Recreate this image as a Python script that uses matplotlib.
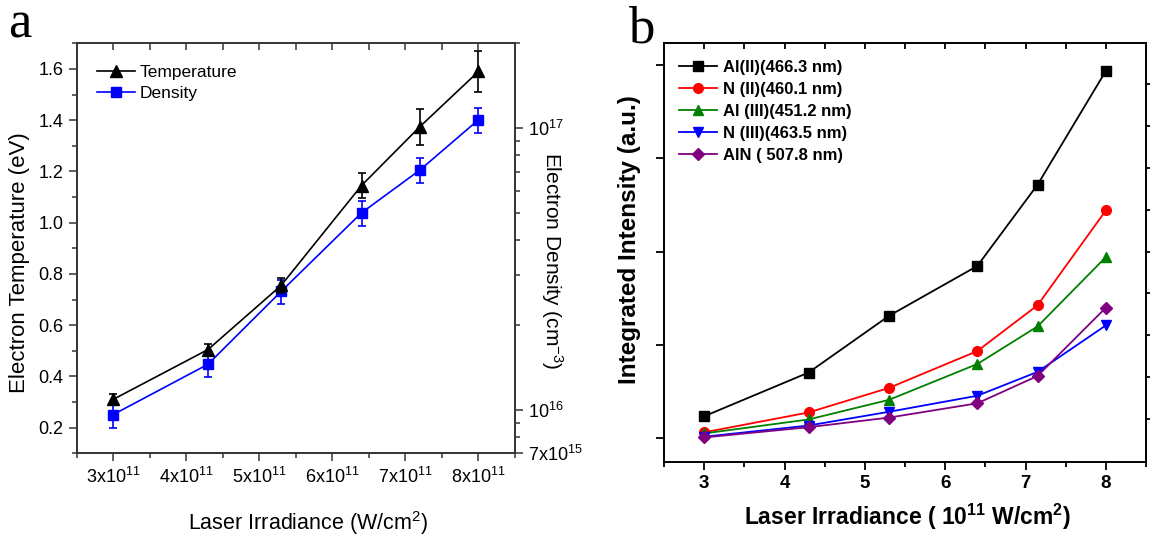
import numpy as np
import matplotlib.pyplot as plt
from matplotlib.ticker import MultipleLocator, NullFormatter, FixedLocator

plt.rcParams['font.family'] = ['Liberation Sans', 'DejaVu Sans']
plt.rcParams['mathtext.fontset'] = 'custom'
plt.rcParams['mathtext.rm'] = 'Liberation Sans'
plt.rcParams['mathtext.bf'] = 'Liberation Sans:bold'
plt.rcParams['mathtext.default'] = 'regular'

# ---- panel a data ----
irradiance_a = [3.0, 4.3, 5.3, 6.4, 7.2, 8.0]          # x 1e11 W/cm2
temperature = [0.31, 0.505, 0.755, 1.145, 1.375, 1.59]  # eV
temperature_err = [0.02, 0.02, 0.03, 0.05, 0.07, 0.08]
density = [9.6e15, 1.45e16, 2.63e16, 5.0e16, 7.1e16, 1.07e17]  # cm^-3
density_err = [0.1 * d for d in density]
xticks_a = [3, 4, 5, 6, 7, 8]

# ---- panel b data ----
irradiance_b = [3.0, 4.3, 5.3, 6.4, 7.15, 8.0]
al2 = [0.234, 0.703, 1.31, 1.845, 2.716, 3.935]
n2 = [0.062, 0.275, 0.538, 0.933, 1.424, 2.44]
al3 = [0.05, 0.20, 0.41, 0.794, 1.197, 1.94]
n3 = [0.015, 0.135, 0.282, 0.454, 0.71, 1.208]
aln = [0.007, 0.117, 0.22, 0.373, 0.666, 1.398]
labels_b = ['Al(II)(466.3 nm)', 'N (II)(460.1 nm)', 'Al (III)(451.2 nm)',
            'N (III)(463.5 nm)', 'AlN ( 507.8 nm)']

fig = plt.figure(figsize=(11.5, 5.36), dpi=100)
W, H = 1150, 536

# ================= panel a =================
ax = fig.add_axes([76.5 / W, 1 - 453.3 / H, 438.5 / W, 410 / H])
ax2 = ax.twinx()

l1 = ax.errorbar(irradiance_a, temperature, yerr=temperature_err, color='black',
                 marker='^', markersize=9, lw=1.2, capsize=3, elinewidth=1.2,
                 capthick=1.2)
l2 = ax2.errorbar(irradiance_a, density, yerr=density_err, color='#0000ff',
                  marker='s', markersize=7.5, lw=1.2, capsize=3, elinewidth=1.2,
                  capthick=1.2)
ax.set_zorder(ax2.get_zorder() + 1)
ax.patch.set_visible(False)

ax.set_xlim(2.5, 8.5)
ax.set_ylim(0.1, 1.7)
ax.set_xticks(xticks_a)
ax.set_xticklabels(['%dx10$^{11}$' % v for v in xticks_a])
ax.xaxis.set_minor_locator(MultipleLocator(0.5))
ax.set_yticks([0.2, 0.4, 0.6, 0.8, 1.0, 1.2, 1.4, 1.6])
ax.yaxis.set_minor_locator(MultipleLocator(0.1))
ax.tick_params(which='both', direction='out', labelsize=13, width=1.1, color='#333333')
ax.tick_params(which='major', length=6)
ax.tick_params(which='minor', length=3.5)

ax2.set_yscale('log')
ax2.set_ylim(7e15, 2e17)
ax2.yaxis.set_major_locator(FixedLocator([7e15, 1e16, 1e17]))
ax2.set_yticklabels(['7x10$^{15}$', '10$^{16}$', '10$^{17}$'])
ax2.yaxis.set_minor_formatter(NullFormatter())
ax2.tick_params(which='both', direction='out', labelsize=13, width=1.1, color='#333333')
ax2.tick_params(which='major', length=6)
ax2.tick_params(which='minor', length=3.5)

top_a = ax.secondary_xaxis('top')
top_a.set_xticks(np.arange(3, 8.01, 0.5))
top_a.tick_params(direction='in', length=5, width=1.1, labeltop=False, color='#333333')

for a in (ax, ax2):
    for s in a.spines.values():
        s.set_linewidth(1.2)
        s.set_color('#333333')
top_a.spines['top'].set_visible(False)

ax.set_ylabel('Electron Temperature (eV)', fontsize=16)
ax.yaxis.set_label_coords(-0.105, 0.465)
ax.set_xlabel('Laser Irradiance (W/cm$^{2}$)', fontsize=15.5)
ax.xaxis.set_label_coords(0.528, -0.135)
ax2.set_ylabel('Electron Density (cm$^{-3}$)', fontsize=15, rotation=270, va='center')
ax2.yaxis.set_label_coords(1.084, 0.47)

ax.legend([l1[0], l2[0]], ['Temperature', 'Density'], loc='upper left', frameon=False,
          fontsize=12.5, labelspacing=0.35, handlelength=2.2, handletextpad=0.3,
          bbox_to_anchor=(0.01, 0.985))

fig.text(8 / W, 1 - 37 / H, 'a', family='Liberation Serif', fontsize=38, va='baseline')

# ================= panel b =================
bx = fig.add_axes([664 / W, 1 - 462 / H, 482 / W, 419.3 / H])
series_b = [al2, n2, al3, n3, aln]
colors_b = ['black', '#ff0000', '#008000', '#0000ff', '#800080']
markers_b = ['s', 'o', '^', 'v', 'D']
msizes_b = [6.5, 7, 7, 7, 6]
for ys, lab, c, m, ms in zip(series_b, labels_b, colors_b, markers_b, msizes_b):
    bx.plot(irradiance_b, ys, color=c, marker=m, markersize=ms, lw=1.3, label=lab)

bx.set_xlim(2.5, 8.5)
bx.set_ylim(-0.256, 4.238)
bx.set_xticks([3, 4, 5, 6, 7, 8])
bx.xaxis.set_minor_locator(MultipleLocator(0.5))
bx.set_yticks([0, 1, 2, 3, 4])
bx.set_yticklabels([])
bx.tick_params(which='both', direction='out', width=1.3)
bx.tick_params(axis='x', which='major', length=6, labelsize=13.5)
bx.tick_params(axis='x', which='minor', length=3.5)
bx.tick_params(axis='y', which='major', length=6)
for t in bx.get_xticklabels():
    t.set_fontweight('bold')

top_b = bx.secondary_xaxis('top')
top_b.set_xticks(np.arange(3, 8.01, 0.5))
top_b.tick_params(direction='in', length=4, width=1.3, labeltop=False)
top_b.spines['top'].set_visible(False)
right_b = bx.secondary_yaxis('right')
right_b.set_yticks(np.arange(0.2, 3.85, 0.45))
right_b.tick_params(direction='out', length=4, width=1.3, labelright=False)
right_b.spines['right'].set_visible(False)
for s in bx.spines.values():
    s.set_linewidth(1.4)

bx.set_ylabel('Integrated Intensity (a.u.)', fontsize=17.5, fontweight='bold')
bx.yaxis.set_label_coords(-0.047, 0.53)
bx.set_xlabel('Laser Irradiance ( 10$^{\\mathbf{11}}$ W/cm$^{\\mathbf{2}}$)',
              fontsize=16.5, fontweight='bold')
bx.xaxis.set_label_coords(0.506, -0.095)

leg = bx.legend(loc='upper left', frameon=False, prop={'weight': 'bold', 'size': 12},
                labelspacing=0.42, handlelength=2.3, handletextpad=0.35,
                bbox_to_anchor=(0.0, 0.995))

fig.text(628 / W, 1 - 42 / H, 'b', family='Liberation Serif', fontsize=38, va='baseline')

fig.savefig('out.png', dpi=100)
